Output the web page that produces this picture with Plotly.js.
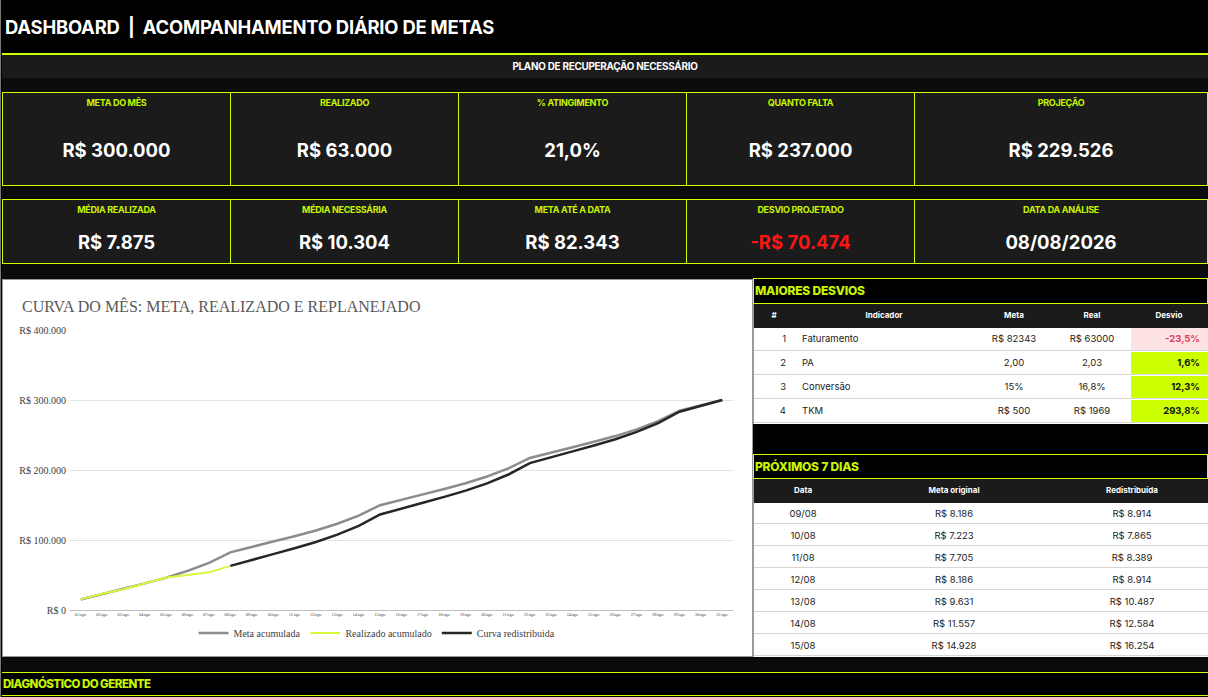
<!DOCTYPE html>
<html><head><meta charset="utf-8">
<script src="https://cdn.plot.ly/plotly-3.0.1.min.js"></script>
<style>
html,body{margin:0;padding:0;background:#000;}
body{width:1208px;height:697px;position:relative;overflow:hidden;font-family:Inter,'Open Sans',sans-serif;}
.abs{position:absolute;box-sizing:border-box;}
.title{left:5px;top:15px;height:24px;line-height:24px;font-size:18.4px;font-weight:700;color:#fff;white-space:nowrap;letter-spacing:-0.2px;}
.yline{background:#ccff00;}
.kpirow{border:1px solid #ccff00;background:#1b1b1b;display:flex;}
.kcell{position:relative;height:100%;box-sizing:border-box;}
.kcell + .kcell{border-left:1px solid #ccff00;}
.klabel{position:absolute;left:0;right:0;text-align:center;font-size:9px;font-weight:700;color:#c8f500;line-height:12px;white-space:nowrap;letter-spacing:-0.3px;}
.kval{position:absolute;left:0;right:0;text-align:center;font-size:18.5px;font-weight:700;color:#fff;line-height:24px;white-space:nowrap;}
.sechead{border:1px solid #ccff00;background:#000;color:#c8f500;font-weight:800;font-size:12px;padding-left:1px;white-space:nowrap;letter-spacing:-0.2px;}
.sep{position:absolute;height:1px;background:#d6d6d6;pointer-events:none;}
</style></head><body>

<div class="abs" style="left:0;top:0;width:1px;height:697px;background:#777"></div>
<div class="abs title" id="pageTitle">DASHBOARD&nbsp; |&nbsp; ACOMPANHAMENTO DIÁRIO DE METAS</div>
<div class="abs yline" style="left:2px;top:53px;width:1206px;height:2px"></div>
<div class="abs" style="left:2px;top:55px;width:1206px;height:23px;background:#1b1b1b;color:#fff;font-size:9.9px;font-weight:700;text-align:center;line-height:23px;letter-spacing:-0.25px" id="plano">PLANO DE RECUPERAÇÃO NECESSÁRIO</div>
<div class="abs" style="left:2px;top:78px;width:1206px;height:14px;background:#0b0b0b"></div>
<div class="abs kpirow" id="kpi1" style="left:2px;top:92px;width:1206px;height:94px"></div>
<div class="abs" style="left:2px;top:186px;width:1206px;height:13px;background:#0b0b0b"></div>
<div class="abs kpirow" id="kpi2" style="left:2px;top:199px;width:1206px;height:65px"></div>
<div class="abs" style="left:2px;top:264px;width:1206px;height:15px;background:#0b0b0b"></div>

<div class="abs" style="left:2px;top:279px;width:751px;height:378px;background:#fff;border:1px solid #9a9a9a"></div>
<div class="abs" id="chart" style="left:3px;top:280px;width:748px;height:376px"></div>

<div class="abs sechead" style="left:753px;top:278px;width:455px;height:26px;line-height:24px">MAIORES DESVIOS</div>
<div class="abs" style="left:753px;top:304px;width:455px;height:120px;background:#fff;border-left:1px solid #9a9a9a"></div>
<div class="abs" id="tbl1" style="left:754px;top:304px;width:454px;height:120px"></div>
<div class="abs sechead" style="left:753px;top:454px;width:455px;height:25px;line-height:23px">PRÓXIMOS 7 DIAS</div>
<div class="abs" style="left:753px;top:479px;width:455px;height:178px;background:#fff;border-left:1px solid #9a9a9a"></div>
<div class="abs" id="tbl2" style="left:754px;top:479px;width:454px;height:178px"></div>
<div id="seps"></div>

<div class="abs" style="left:2px;top:657px;width:1206px;height:15px;background:#0b0b0b"></div>
<div class="abs yline" style="left:2px;top:672px;width:1206px;height:1px"></div>
<div class="abs" style="left:3px;top:673px;width:1205px;height:22px;line-height:22px;color:#c8f500;font-weight:800;font-size:11.5px;white-space:nowrap;letter-spacing:-0.5px">DIAGNÓSTICO DO GERENTE</div>
<div class="abs yline" style="left:2px;top:695px;width:1206px;height:1px"></div>

<script>
// ---------- KPI data ----------
const kpiLabels1 = ['META DO MÊS', 'REALIZADO', '% ATINGIMENTO', 'QUANTO FALTA', 'PROJEÇÃO'];
const kpiValues1 = ['R$ 300.000', 'R$ 63.000', '21,0%', 'R$ 237.000', 'R$ 229.526'];
const kpiLabels2 = ['MÉDIA REALIZADA', 'MÉDIA NECESSÁRIA', 'META ATÉ A DATA', 'DESVIO PROJETADO', 'DATA DA ANÁLISE'];
const kpiValues2 = ['R$ 7.875', 'R$ 10.304', 'R$ 82.343', '-R$ 70.474', '08/08/2026'];

// ---------- Chart data ----------
const dias = ['01/ago.','02/ago.','03/ago.','04/ago.','05/ago.','06/ago.','07/ago.','08/ago.','09/ago.','10/ago.',
  '11/ago.','12/ago.','13/ago.','14/ago.','15/ago.','16/ago.','17/ago.','18/ago.','19/ago.','20/ago.',
  '21/ago.','22/ago.','23/ago.','24/ago.','25/ago.','26/ago.','27/ago.','28/ago.','29/ago.','30/ago.','31/ago.'];
const metaAcumulada = [14928, 23114, 30337, 38042, 46228, 55859, 67415, 82343, 90529, 97752,
  105457, 113643, 123274, 134831, 149759, 157945, 165168, 172873, 181059, 190690,
  202247, 217175, 225361, 232584, 240289, 248475, 258106, 269663, 284591, 292777, 300000];
const realizadoAcumulado = [15200, 23300, 29700, 38000, 46300, 50000, 53800, 63000];
const curvaRedistribuida = [63000, 71914, 79779, 88168, 97082, 107569, 120153, 136407, 145321, 153186,
  161575, 170489, 180976, 193560, 209814, 218728, 226593, 234982, 243896, 254383, 266967, 283221, 292135, 300000];
const yTickVals = [0, 100000, 200000, 300000, 400000];
const yTickText = ['R$ 0', 'R$ 100.000', 'R$ 200.000', 'R$ 300.000', 'R$ 400.000'];
const seriesNames = ['Meta acumulada', 'Realizado acumulado', 'Curva redistribuida'];

// ---------- Table data ----------
const desvioHeaders = ['#', 'Indicador', 'Meta', 'Real', 'Desvio'];
const desvioNum = ['1', '2', '3', '4'];
const desvioIndicador = ['Faturamento', 'PA', 'Conversão', 'TKM'];
const desvioMeta = ['R$ 82343', '2,00', '15%', 'R$ 500'];
const desvioReal = ['R$ 63000', '2,03', '16,8%', 'R$ 1969'];
const desvioValor = ['-23,5%', '1,6%', '12,3%', '293,8%'];

const proxHeaders = ['Data', 'Meta original', 'Redistribuída'];
const proxDatas = ['09/08', '10/08', '11/08', '12/08', '13/08', '14/08', '15/08'];
const proxMetaOriginal = ['R$ 8.186', 'R$ 7.223', 'R$ 7.705', 'R$ 8.186', 'R$ 9.631', 'R$ 11.557', 'R$ 14.928'];
const proxRedistribuida = ['R$ 8.914', 'R$ 7.865', 'R$ 8.389', 'R$ 8.914', 'R$ 10.487', 'R$ 12.584', 'R$ 16.254'];

// ---------- KPI rendering ----------
function buildKpis(id, labels, values, widths, labelTop, valTop) {
  const row = document.getElementById(id);
  labels.forEach((lab, i) => {
    const c = document.createElement('div');
    c.className = 'kcell';
    c.style.width = widths[i] + 'px';
    const l = document.createElement('div');
    l.className = 'klabel'; l.style.top = labelTop + 'px'; l.textContent = lab;
    const v = document.createElement('div');
    v.className = 'kval'; v.style.top = valTop + 'px'; v.textContent = values[i];
    if (values[i].trim().startsWith('-')) v.style.color = '#ff1414';
    c.appendChild(l); c.appendChild(v); row.appendChild(c);
  });
}
const kw = [227, 228, 228, 228, 293];
buildKpis('kpi1', kpiLabels1, kpiValues1, kw, 4, 45);
buildKpis('kpi2', kpiLabels2, kpiValues2, kw, 4, 30);

// ---------- Chart ----------
const serif = 'Liberation Serif, Times New Roman, serif';
const traces = [
  {type:'scatter', mode:'lines', name: seriesNames[0], x: dias, y: metaAcumulada,
   line:{color:'#8c8c8c', width:2.5}},
  {type:'scatter', mode:'lines', name: seriesNames[1], x: dias.slice(0, realizadoAcumulado.length), y: realizadoAcumulado,
   line:{color:'#d4fa3a', width:2}},
  {type:'scatter', mode:'lines', name: seriesNames[2], x: dias.slice(dias.length - curvaRedistribuida.length), y: curvaRedistribuida,
   line:{color:'#262626', width:2.5}}
];
const layout = {
  width: 748, height: 376,
  margin: {l: 67, r: 18, t: 50, b: 46},
  paper_bgcolor: '#ffffff', plot_bgcolor: '#ffffff',
  title: {text: 'CURVA DO MÊS: META, REALIZADO E REPLANEJADO', xref: 'container', yref: 'container',
          x: 0.0254, xanchor: 'left', y: 0.931, yanchor: 'middle',
          font: {family: serif, size: 16, color: '#595959'}},
  xaxis: {type: 'category', categoryorder: 'array', categoryarray: dias, range: [-0.5, dias.length - 0.5],
          showline: true, linecolor: '#bfbfbf', linewidth: 1, showgrid: false, zeroline: false,
          ticks: '', tickangle: 0, tickfont: {family: serif, size: 4, color: '#404040'}},
  yaxis: {range: [0, 400000], tickvals: yTickVals, ticktext: yTickText, showgrid: true,
          gridcolor: '#e3e3e3', gridwidth: 1, zeroline: false, showline: false, ticks: '',
          ticklabelstandoff: 3, tickfont: {family: serif, size: 10, color: '#404040'}},
  showlegend: true,
  legend: {orientation: 'h', xref: 'container', yref: 'container', x: 0.5, xanchor: 'center',
           y: 0.061, yanchor: 'middle', itemwidth: 30, traceorder: 'normal',
           font: {family: serif, size: 10, color: '#404040'}, bgcolor: 'rgba(0,0,0,0)'},
  hovermode: false
};
Plotly.newPlot('chart', traces, layout, {staticPlot: true, displayModeBar: false});

// ---------- Tables ----------
const sans = 'Inter, Open Sans, sans-serif';
const isNeg = v => v.trim().startsWith('-');
const t1Header = 23, t1Row = 24, t2Header = 23, t2Row = 22;
Plotly.newPlot('tbl1', [{
  type: 'table', columnwidth: [40, 180, 80, 76, 78],
  header: {values: desvioHeaders, height: t1Header, align: 'center',
           fill: {color: '#1b1b1b'}, line: {color: '#1b1b1b', width: 1},
           font: {family: sans, size: 8, color: '#ffffff', weight: 'bold'}},
  cells: {values: [desvioNum, desvioIndicador, desvioMeta, desvioReal, desvioValor],
          height: t1Row, align: ['right', 'left', 'center', 'center', 'right'],
          fill: {color: ['#ffffff', '#ffffff', '#ffffff', '#ffffff', desvioValor.map(v => isNeg(v) ? '#fde3e3' : '#ccff00')]},
          line: {color: '#ffffff', width: 1},
          font: {family: sans, size: 9.5,
                 weight: ['normal', 'normal', 'normal', 'normal', 'bold'],
                 color: ['#222', '#222', '#222', '#222', desvioValor.map(v => isNeg(v) ? '#e0405a' : '#111')]}}
}], {width: 454, height: 120, margin: {l: 0, r: 0, t: 0, b: 0}, paper_bgcolor: 'rgba(0,0,0,0)'},
{staticPlot: true, displayModeBar: false});

Plotly.newPlot('tbl2', [{
  type: 'table', columnwidth: [98, 204, 152],
  header: {values: proxHeaders, height: t2Header, align: 'center',
           fill: {color: '#1b1b1b'}, line: {color: '#1b1b1b', width: 1},
           font: {family: sans, size: 8, color: '#ffffff', weight: 'bold'}},
  cells: {values: [proxDatas, proxMetaOriginal, proxRedistribuida], height: t2Row, align: 'center',
          fill: {color: '#ffffff'}, line: {color: '#ffffff', width: 1},
          font: {family: sans, size: 9.5, color: '#222'}}
}], {width: 454, height: 178, margin: {l: 0, r: 0, t: 0, b: 0}, paper_bgcolor: 'rgba(0,0,0,0)'},
{staticPlot: true, displayModeBar: false});

// row separators (thin grey rules between table rows)
const seps = document.getElementById('seps');
function addSeps(top, header, rowH, n) {
  for (let i = 1; i <= n; i++) {
    const s = document.createElement('div');
    s.className = 'sep';
    s.style.left = '754px'; s.style.width = '454px';
    s.style.top = (top + header + rowH * i - 1) + 'px';
    seps.appendChild(s);
  }
}
addSeps(304, t1Header, t1Row, desvioNum.length);
addSeps(479, t2Header, t2Row, proxDatas.length);
</script>
</body></html>
